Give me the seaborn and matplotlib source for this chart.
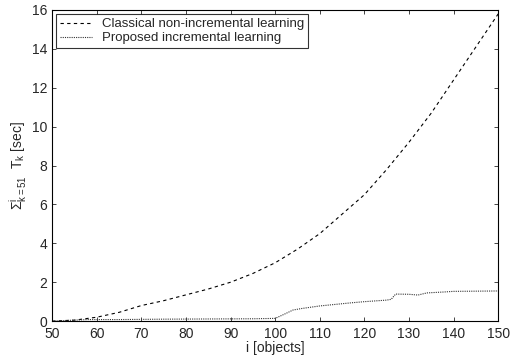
import matplotlib
matplotlib.use('Agg')
import pandas as pd
import seaborn as sns
import matplotlib.pyplot as plt

# values
classical_i = [50, 55, 60, 65, 70, 75, 80, 85, 90, 95, 100,
               105, 110, 115, 120, 125, 130, 135, 140, 145, 150]
classical_t = [0.0, 0.05, 0.2, 0.45, 0.8, 1.05, 1.35, 1.65, 2.0, 2.45, 3.0,
               3.7, 4.5, 5.5, 6.5, 7.8, 9.2, 10.7, 12.4, 14.1, 15.8]

proposed_i = [50, 55, 58, 65, 75, 85, 95, 100, 102, 104, 106, 110, 117,
              120, 125, 126, 127, 130, 132, 134, 138, 140, 145, 150]
proposed_t = [0.0, 0.05, 0.08, 0.08, 0.1, 0.11, 0.12, 0.14, 0.35, 0.57, 0.65,
              0.78, 0.94, 1.0, 1.08, 1.12, 1.39, 1.38, 1.34, 1.45, 1.5, 1.53, 1.54, 1.55]

df_c = pd.DataFrame({'i': classical_i, 't': classical_t})
df_p = pd.DataFrame({'i': proposed_i, 't': proposed_t})

sns.set_theme(style="ticks")
plt.rcParams['font.family'] = ['Liberation Sans', 'DejaVu Sans']
plt.rcParams['mathtext.fontset'] = 'custom'
plt.rcParams['mathtext.rm'] = 'Liberation Sans'
plt.rcParams['mathtext.it'] = 'Liberation Sans'

fig = plt.figure(figsize=(5.11, 3.56), dpi=100)
ax = fig.add_axes([0.102, 0.098, 0.873, 0.874])

sns.lineplot(data=df_c, x='i', y='t', ax=ax, color='black', linewidth=0.8,
             linestyle=(0, (3, 3)), label='Classical non-incremental learning')
sns.lineplot(data=df_p, x='i', y='t', ax=ax, color='#333333', linewidth=0.8,
             linestyle=(0, (1, 1)), label='Proposed incremental learning')

ax.set_xlim(50, 150)
ax.set_ylim(0, 16)
ax.set_xticks(range(50, 151, 10))
ax.set_yticks(range(0, 17, 2))
ax.tick_params(direction='in', top=True, right=True, labelsize=10, length=3,
               width=0.6)
ax.tick_params(axis='x', pad=4)
ax.tick_params(axis='y', pad=3.5)
for s in ax.spines.values():
    s.set_visible(True)
    s.set_linewidth(0.8)
    s.set_color('black')

ax.set_xlabel('i [objects]', fontsize=10, labelpad=0)
ax.set_ylabel(r'$\Sigma^{i}_{k=51}\ \ T_k$ [sec]', fontsize=10, labelpad=2)

leg = ax.legend(loc='upper left', fontsize=9.5, frameon=True, fancybox=False,
                borderpad=0.3, handlelength=2.4, labelspacing=0.15,
                borderaxespad=0.3)
leg.get_frame().set_edgecolor('black')
leg.get_frame().set_linewidth(0.8)

plt.savefig('out.png', dpi=100)
